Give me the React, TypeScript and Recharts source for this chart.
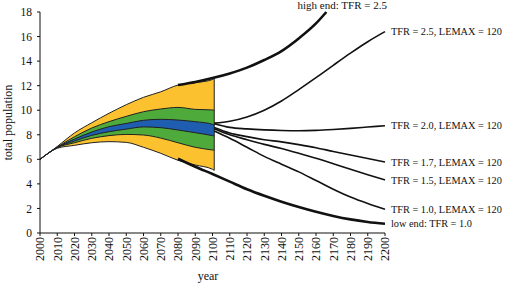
import React from "react";
import { ComposedChart, Area, Line, XAxis, YAxis, ReferenceLine } from "recharts";

// probabilistic fan, 2000-2101
const bandYears = [2000, 2010, 2020, 2030, 2040, 2050, 2060, 2070, 2080, 2090, 2100, 2101];
const yellowHigh = [6.0, 7.05, 8.15, 8.98, 9.75, 10.45, 11.05, 11.5, 12.05, 12.24, 12.5, 12.6];
const greenHigh = [6.0, 7.0, 7.84, 8.55, 9.07, 9.5, 9.88, 10.1, 10.23, 10.07, 10.02, 10.0];
const blueHigh = [6.0, 6.98, 7.65, 8.22, 8.66, 8.92, 9.18, 9.26, 9.2, 9.07, 8.85, 8.8];
const blueLow = [6.0, 6.96, 7.49, 7.95, 8.25, 8.46, 8.64, 8.58, 8.39, 8.17, 7.93, 7.9];
const greenLow = [6.0, 6.95, 7.35, 7.71, 7.93, 8.03, 7.98, 7.73, 7.35, 6.98, 6.76, 6.74];
const yellowLow = [6.0, 6.9, 7.14, 7.35, 7.44, 7.38, 6.98, 6.49, 5.92, 5.54, 5.19, 5.1];

// scenario lines after 2101
const branchYears = [2101, 2110, 2120, 2130, 2140, 2150, 2160, 2170, 2180, 2190, 2200];
const tfr25 = [8.95, 9.1, 9.45, 10.0, 10.75, 11.68, 12.65, 13.66, 14.65, 15.58, 16.4];
const tfr20 = [8.9, 8.6, 8.48, 8.4, 8.35, 8.33, 8.36, 8.43, 8.52, 8.63, 8.74];
const tfr17 = [8.6, 8.15, 7.85, 7.6, 7.42, 7.2, 6.95, 6.64, 6.35, 6.07, 5.78];
const tfr15 = [8.5, 8.0, 7.6, 7.22, 6.88, 6.49, 6.08, 5.64, 5.19, 4.75, 4.32];
const tfr10 = [8.3, 7.71, 6.98, 6.24, 5.6, 4.98, 4.28, 3.57, 2.93, 2.4, 1.93];

// high / low end
const highYears = [2080, 2090, 2100, 2110, 2120, 2130, 2140, 2150, 2160, 2166];
const highEnd = [12.05, 12.3, 12.62, 13.0, 13.47, 14.09, 14.82, 15.85, 17.07, 18.0];
const lowYears = [2080, 2090, 2100, 2110, 2120, 2130, 2140, 2150, 2160, 2170, 2180, 2190, 2200];
const lowEnd = [6.05, 5.4, 4.8, 4.18, 3.56, 3.03, 2.55, 2.12, 1.73, 1.39, 1.11, 0.9, 0.75];

const xTicks = [2000, 2010, 2020, 2030, 2040, 2050, 2060, 2070, 2080, 2090, 2100, 2110, 2120, 2130, 2140, 2150, 2160, 2170, 2180, 2190, 2200];
const yTicks = [0, 2, 4, 6, 8, 10, 12, 14, 16, 18];

const serif = "'Liberation Serif', 'Times New Roman', serif";

const rowMap = new Map<number, any>();
function put(years: number[], values: any[], key: string) {
    years.forEach((yr, i) => {
        const row = rowMap.get(yr) ?? { year: yr };
        row[key] = values[i];
        rowMap.set(yr, row);
    });
}
put(bandYears, bandYears.map((_, i) => [yellowLow[i], yellowHigh[i]]), "yellow");
put(bandYears, bandYears.map((_, i) => [greenLow[i], greenHigh[i]]), "green");
put(bandYears, bandYears.map((_, i) => [blueLow[i], blueHigh[i]]), "blue");
put(branchYears, tfr25, "tfr25");
put(branchYears, tfr20, "tfr20");
put(branchYears, tfr17, "tfr17");
put(branchYears, tfr15, "tfr15");
put(branchYears, tfr10, "tfr10");
put(highYears, highEnd, "high");
put(lowYears, lowEnd, "low");
const data = [...rowMap.values()].sort((a, b) => a.year - b.year);
const lastIdx = data.length - 1;

const endLabel = (name: string) => (props: any) => {
    if (props.index !== lastIdx) return <g />;
    const x = props.x ?? props.viewBox?.x;
    const y = props.y ?? props.viewBox?.y;
    return (
        <text x={x + 6} y={y} dy="0.35em" fontSize={10.3} fontFamily={serif} fill="#111">
            {name}
        </text>
    );
};

function YearTick(props: any) {
    const { x, y, payload } = props;
    return (
        <g transform={`translate(${x},${y + 1})`}>
            <text x={0} y={0} dy="0.36em" transform="rotate(-90)" textAnchor="end" fontSize={12} fontFamily={serif} fill="#111">
                {payload.value}
            </text>
        </g>
    );
}

const branches = [
    { key: "tfr25", name: "TFR = 2.5, LEMAX = 120" },
    { key: "tfr20", name: "TFR = 2.0, LEMAX = 120" },
    { key: "tfr17", name: "TFR = 1.7, LEMAX = 120" },
    { key: "tfr15", name: "TFR = 1.5, LEMAX = 120" },
    { key: "tfr10", name: "TFR = 1.0, LEMAX = 120" },
];

export default function App() {
    const last = bandYears.length - 1;
    return (
        <div style={{ position: "absolute", left: 0, top: 0, width: 507, height: 284, background: "#fff" }}>
            <ComposedChart width={507} height={284} data={data} margin={{ top: 12, right: 122, bottom: 0, left: 0 }}>
                <XAxis
                    dataKey="year"
                    type="number"
                    domain={[2000, 2200]}
                    ticks={xTicks}
                    interval={0}
                    height={51}
                    tickSize={3}
                    tickMargin={0}
                    stroke="#111"
                    tick={<YearTick />}
                    label={() => (
                        <text x={208} y={280} textAnchor="middle" fontSize={12} fontFamily={serif} fill="#111">
                            year
                        </text>
                    )}
                />
                <YAxis
                    type="number"
                    domain={[0, 18]}
                    ticks={yTicks}
                    width={40}
                    tickSize={3}
                    tickMargin={5}
                    stroke="#111"
                    tick={{ fontSize: 11.5, fontFamily: serif, fill: "#111" }}
                    label={() => (
                        <text
                            x={7.5}
                            y={122.5}
                            transform="rotate(-90, 7.5, 122.5)"
                            dy="0.35em"
                            textAnchor="middle"
                            fontSize={12}
                            fontFamily={serif}
                            fill="#111"
                        >
                            total population
                        </text>
                    )}
                />
                <Area dataKey="yellow" type="monotone" fill="#FCC12F" fillOpacity={1} stroke="#222" strokeWidth={1} isAnimationActive={false} />
                <Area dataKey="green" type="monotone" fill="#4EAA3B" fillOpacity={1} stroke="#222" strokeWidth={1} isAnimationActive={false} />
                <Area dataKey="blue" type="monotone" fill="#1F5DB0" fillOpacity={1} stroke="#222" strokeWidth={1} isAnimationActive={false} />
                <ReferenceLine
                    segment={[
                        { x: bandYears[last], y: yellowLow[last] },
                        { x: bandYears[last], y: yellowHigh[last] },
                    ]}
                    stroke="#222"
                    strokeWidth={1}
                />
                {branches.map((b) => (
                    <Line
                        key={b.key}
                        dataKey={b.key}
                        type="monotone"
                        stroke="#111"
                        strokeWidth={1.6}
                        dot={false}
                        connectNulls
                        isAnimationActive={false}
                        label={endLabel(b.name)}
                    />
                ))}
                <Line dataKey="high" type="monotone" stroke="#111" strokeWidth={2.6} dot={false} connectNulls isAnimationActive={false} />
                <Line
                    dataKey="low"
                    type="monotone"
                    stroke="#111"
                    strokeWidth={2.6}
                    dot={false}
                    connectNulls
                    isAnimationActive={false}
                    label={endLabel("low end: TFR = 1.0")}
                />
            </ComposedChart>
            <div
                style={{
                    position: "absolute",
                    right: 120,
                    top: -1,
                    fontSize: 11,
                    lineHeight: "12px",
                    fontFamily: serif,
                    color: "#111",
                    whiteSpace: "nowrap",
                }}
            >
                high end: TFR = 2.5
            </div>
        </div>
    );
}
